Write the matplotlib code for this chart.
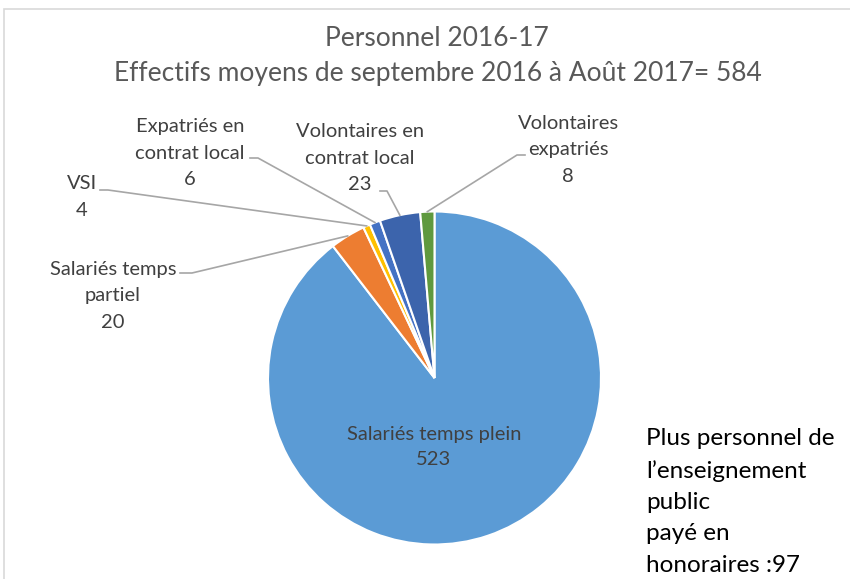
import matplotlib.pyplot as plt
import numpy as np

# Data
categories = ['Salariés temps plein', 'Salariés temps partiel', 'VSI',
              'Expatriés en contrat local', 'Volontaires en contrat local',
              'Volontaires expatriés']
values = [523, 20, 4, 6, 23, 8]
colors = ['#5B9BD5', '#ED7D31', '#FFC000', '#4472C4', '#3C64AC', '#5F993E']

# label text for outside slices (line-broken as in the chart)
label_texts = [None, 'Salariés temps\npartiel', 'VSI',
               'Expatriés en\ncontrat local', 'Volontaires en\ncontrat local',
               'Volontaires\nexpatriés']

W, H = 850, 579
fig = plt.figure(figsize=(W / 100, H / 100), dpi=100)
plt.rcParams['font.family'] = ['Lato', 'DejaVu Sans']


def fx(px):
    return px / W


def fy(py):
    return 1 - py / H


# chart area frame
fig.patches.append(plt.Rectangle((fx(4), fy(H + 10)), fx(W + 10), fy(9) - fy(H + 10),
                                 transform=fig.transFigure, fill=False,
                                 edgecolor='#d9d9d9', linewidth=1.2))

# pie axes: center (434.5, 378) px, radius 166.5 px
cx, cy, r = 434.5, 378, 166.5
ax = fig.add_axes([fx(cx - r), fy(cy + r), 2 * r / W, 2 * r / H])
wedges, _ = ax.pie(values, colors=colors, startangle=90, counterclock=False,
                   radius=1, wedgeprops=dict(edgecolor='white', linewidth=1.5))
ax.set_xlim(-1, 1)
ax.set_ylim(-1, 1)
ax.set_aspect('equal')
ax.axis('off')

fig.text(fx(437), fy(39), 'Personnel 2016-17', ha='center', va='center',
         fontsize=19, color='#595959')
fig.text(fx(438), fy(74), 'Effectifs moyens de septembre 2016 à Août 2017= 584',
         ha='center', va='center', fontsize=19, color='#595959')

# inside label for the big slice
fig.text(fx(434), fy(447), 'Salariés temps plein\n523', ha='center', va='center',
         fontsize=14.5, color='#404040', linespacing=1.6)

# outside labels: text centre, elbow point and end point of leader (pixels)
text_pos = [None, (113, 296), (82, 197), (190, 153), (360, 158), (568, 150)]
elbows = [None, (192, 273), (108, 190), (258, 158), (387, 191), (517, 155)]
ends = [None, (180, 273), (100, 190), (250, 158), (380, 191), (525, 155)]

for i, w in enumerate(wedges):
    if label_texts[i] is None:
        continue
    ang = np.deg2rad((w.theta1 + w.theta2) / 2)
    ax_pt = ax.transData.transform((np.cos(ang), np.sin(ang)))
    ax_fig = fig.transFigure.inverted().transform(ax_pt)
    ex, ey = elbows[i]
    nx, ny = ends[i]
    fig.add_artist(plt.Line2D([ax_fig[0], fx(ex), fx(nx)], [ax_fig[1], fy(ey), fy(ny)],
                              transform=fig.transFigure, color='#a6a6a6', linewidth=1.2))
    tx, ty = text_pos[i]
    fig.text(fx(tx), fy(ty), f'{label_texts[i]}\n{values[i]}', ha='center', va='center',
             fontsize=14.5, color='#404040', linespacing=1.65)

fig.text(fx(646), fy(502), 'Plus personnel de\nl\u2019enseignement\npublic\npayé en\nhonoraires :97',
         ha='left', va='center', fontsize=17.5, color='black', linespacing=1.6)

fig.savefig('out.png', dpi=100)
